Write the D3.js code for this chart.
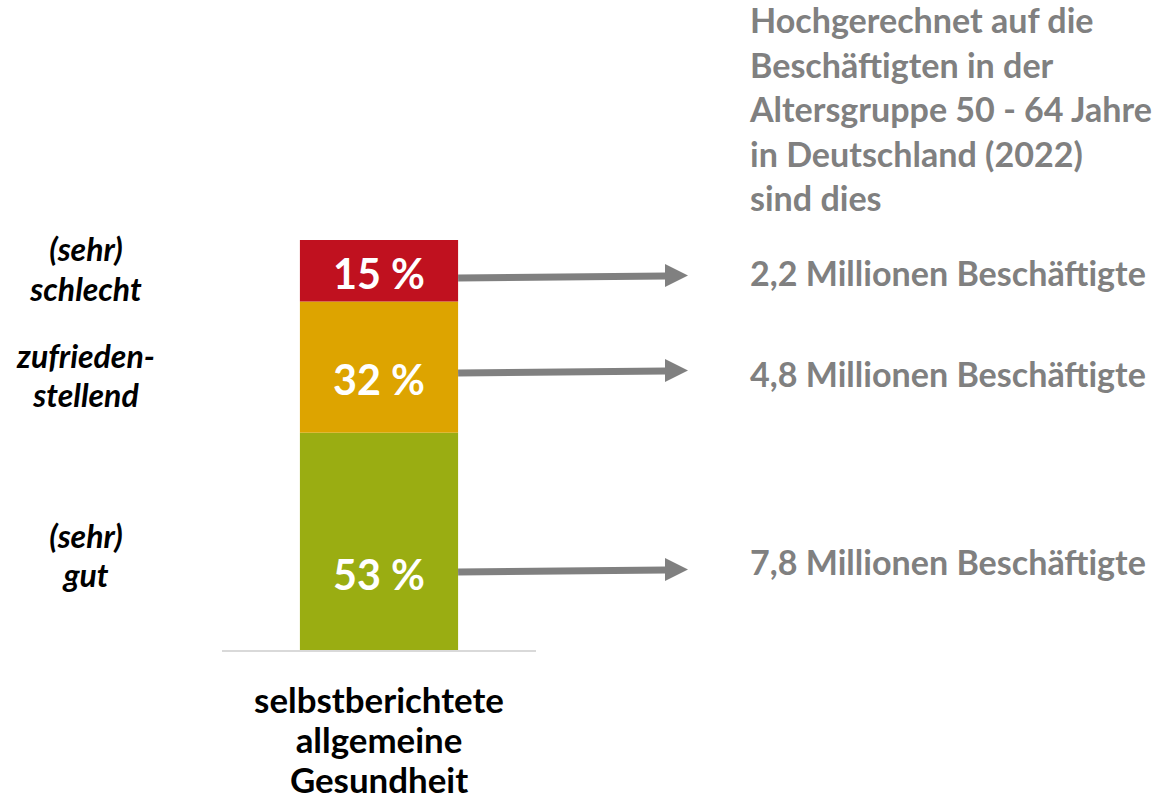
<!DOCTYPE html>
<html><head><meta charset="utf-8">
<script src="https://cdn.jsdelivr.net/npm/d3@7/dist/d3.min.js"></script>
<style>
html,body{margin:0;padding:0;background:#fff;}
svg{display:block;font-family:Lato,"Open Sans",sans-serif;}
</style></head><body>
<svg id="chart" width="1165" height="805"></svg>
<script>
// ---- data ----
const category = "selbstberichtete allgemeine Gesundheit";
const categoryLines = ["selbstberichtete", "allgemeine", "Gesundheit"];
const segments = ["(sehr) gut", "zufriedenstellend", "(sehr) schlecht"];
const shares = [53, 32, 15];
const segmentLabelLines = [["(sehr)", "gut"], ["zufrieden-", "stellend"], ["(sehr)", "schlecht"]];
const projections = ["7,8 Millionen Beschäftigte", "4,8 Millionen Beschäftigte", "2,2 Millionen Beschäftigte"];
const headerLines = ["Hochgerechnet auf die", "Beschäftigten in der", "Altersgruppe 50 - 64 Jahre", "in Deutschland (2022)", "sind dies"];

// ---- style / layout ----
const colors = ["#9AAD12", "#DDA400", "#C0111F"];
const grey = "#808080";
const labelBaselines = [590, 395, 289];     // bar value label baselines
const arrowYs = [571, 372, 277];            // arrow heights
const projBaselines = [575, 387, 286];
const leftBaselines = [[548, 587], [368, 407], [261, 301]];

const svg = d3.select("#chart");

const x = d3.scaleBand().domain([category]).range([222, 536]).padding(0.33);
const y = d3.scaleLinear().domain([0, 100]).range([650, 240]);

// stack
let acc = 0;
const stacked = shares.map((v, i) => { const d = {i, v, y0: acc, y1: acc + v}; acc += v; return d; });

svg.append("g").selectAll("rect").data(stacked).join("rect")
  .attr("x", x(category)).attr("width", x.bandwidth())
  .attr("y", d => y(d.y1)).attr("height", d => y(d.y0) - y(d.y1))
  .attr("fill", d => colors[d.i]);

// baseline
svg.append("line").attr("x1", 222).attr("x2", 536).attr("y1", y(0) + 1).attr("y2", y(0) + 1)
  .attr("stroke", "#d9d9d9").attr("stroke-width", 2);

function fit(sel, target) {
  const n = sel.node();
  const w = n.getComputedTextLength();
  const fs = parseFloat(n.getAttribute("font-size"));
  return fs * target / w;
}

// value labels
const cx = x(category) + x.bandwidth() / 2;
const valLabels = svg.append("g").selectAll("text").data(stacked).join("text")
  .attr("x", cx).attr("y", d => labelBaselines[d.i]).attr("text-anchor", "middle")
  .attr("fill", "#fff").attr("font-weight", 700).attr("font-size", 40)
  .text(d => d.v + " %");
const vfs = fit(valLabels.filter(d => d.i === 2), 92);
valLabels.attr("font-size", vfs);

// arrows
const xr = x(category) + x.bandwidth();
const tipX = 688, headLen = 23, headHalf = 11.5;
const ag = svg.append("g");
stacked.forEach(d => {
  const yy = arrowYs[d.i];
  ag.append("line").attr("x1", xr).attr("x2", tipX - headLen + 1)
    .attr("y1", yy + 1).attr("y2", yy - 1)
    .attr("stroke", grey).attr("stroke-width", 7);
  ag.append("path")
    .attr("d", `M${tipX},${yy - 1.5} L${tipX - headLen},${yy - 1.5 - headHalf} L${tipX - headLen},${yy - 1.5 + headHalf} Z`)
    .attr("fill", grey);
});

// projection labels
const proj = svg.append("g").selectAll("text").data(stacked).join("text")
  .attr("x", 750).attr("y", d => projBaselines[d.i])
  .attr("fill", grey).attr("font-weight", 700).attr("font-size", 30)
  .text(d => projections[d.i]);
const pfs = fit(proj.filter(d => d.i === 2), 396);
proj.attr("font-size", pfs);

// header
const hdr = svg.append("g").selectAll("text").data(headerLines).join("text")
  .attr("x", 750).attr("y", (d, i) => [33, 78, 122, 167, 211][i])
  .attr("fill", grey).attr("font-weight", 700).attr("font-size", 30)
  .text(d => d);
const hfs = fit(hdr.filter((d, i) => i === 2), 402);
hdr.attr("font-size", hfs);

// left segment labels
const lg = svg.append("g");
stacked.forEach(d => {
  segmentLabelLines[d.i].forEach((t, j) => {
    lg.append("text").attr("x", 86).attr("y", leftBaselines[d.i][j])
      .attr("text-anchor", "middle").attr("font-weight", 700).attr("font-style", "italic")
      .attr("font-size", 30).attr("fill", "#000").text(t);
  });
});
const lt = lg.selectAll("text").filter(function() { return this.textContent === "zufrieden-"; });
const lfs = Math.min(fit(lt, 154), 32);
lg.selectAll("text").attr("font-size", lfs);

// category label
const cl = svg.append("g").selectAll("text").data(categoryLines).join("text")
  .attr("x", cx).attr("y", (d, i) => [713, 753, 793][i]).attr("text-anchor", "middle")
  .attr("font-weight", 700).attr("font-size", 30).attr("fill", "#000").text(d => d);
const cfs = fit(cl.filter((d, i) => i === 0), 250);
cl.attr("font-size", cfs);
</script>
</body></html>
